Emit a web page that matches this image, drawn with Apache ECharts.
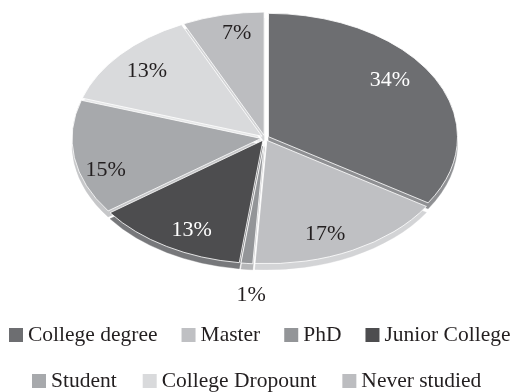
<!DOCTYPE html>
<html>
<head>
<meta charset="utf-8">
<style>html,body{margin:0;padding:0;background:#fff}#chart{width:513px;height:392px}</style>
<script src="https://cdn.jsdelivr.net/npm/echarts@6/dist/echarts.min.js"></script>
</head>
<body>
<div id="chart"></div>
<script>
// Share of respondents by education level, in percent
const categories = ['College degree', 'Master', 'PhD', 'Junior College', 'Student', 'College Dropount', 'Never studied'];
const shares = [34, 17, 1, 13, 15, 13, 7];

// Appearance of each slice
const topColors = ['#6d6e71', '#bfc0c3', '#939598', '#4d4d4f', '#a7a9ac', '#d9dadc', '#bcbdc0'];
const wallColors = ['#8f9093', '#d3d4d6', '#b5b6b8', '#77787b', '#c6c7c9', '#e6e7e8', '#d3d4d6'];
const labelColors = ['#ffffff', '#231f20', '#231f20', '#ffffff', '#231f20', '#231f20', '#231f20'];
const labelNudgeX = [-5, -7, 0, 2, -13, -7, 4];
const labelNudgeY = [-6, 0, 0, -1, 15, 5, 1];
const labelReachY = [0.87, 0.87, 1.27, 0.87, 0.87, 0.87, 0.87];

// Tilted disc geometry
const centerX = 265, centerY = 138, radiusX = 193, radiusY = 126, depth = 6, gap = 4;
const serif = '"Liberation Serif", serif';

const total = shares.reduce((a, b) => a + b, 0);
const startShare = shares.map((_, i) => shares.slice(0, i).reduce((a, b) => a + b, 0));

function renderSlice(params, api) {
  const i = params.seriesIndex;
  const from = startShare[i] / total * 2 * Math.PI;
  const to = (startShare[i] + shares[i]) / total * 2 * Math.PI;
  const mid = (from + to) / 2;
  const ox = centerX + Math.sin(mid) * gap;
  const oy = centerY - Math.cos(mid) * gap * radiusY / radiusX;
  const shape = { cx: 0, cy: 0, r0: 0, r: radiusX - gap, startAngle: from - Math.PI / 2, endAngle: to - Math.PI / 2, clockwise: true };
  const scaleY = radiusY / radiusX;
  return {
    type: 'group',
    children: [
      { type: 'sector', z2: 1, x: ox, y: oy + depth, scaleY, shape, style: { fill: wallColors[i], stroke: wallColors[i], lineWidth: 0.5 } },
      { type: 'sector', z2: 2, x: ox, y: oy, scaleY, shape, style: { fill: topColors[i], stroke: '#ffffff', lineWidth: 1 } },
      { type: 'text', z2: 3,
        x: centerX + Math.sin(mid) * 190 * 0.78 + labelNudgeX[i],
        y: centerY - Math.cos(mid) * 124 * labelReachY[i] + labelNudgeY[i],
        style: { text: shares[i] + '%', fill: labelColors[i], font: '22px ' + serif, align: 'center', verticalAlign: 'middle' } }
    ]
  };
}

const legendBase = {
  icon: 'rect', itemWidth: 14, itemHeight: 14,
  padding: 0, selectedMode: false,
  textStyle: { fontFamily: serif, fontSize: 21.5, color: '#231f20' }
};

const chart = echarts.init(document.getElementById('chart'), null, { renderer: 'canvas' });
chart.setOption({
  animation: false,
  backgroundColor: '#ffffff',
  legend: [
    Object.assign({}, legendBase, { data: categories.slice(0, 4), left: 9, top: 324, itemGap: 24 }),
    Object.assign({}, legendBase, { data: categories.slice(4), left: 32, top: 370, itemGap: 26 })
  ],
  series: categories.map((name, i) => ({
    type: 'custom',
    name,
    coordinateSystem: 'none',
    silent: true,
    itemStyle: { color: topColors[i] },
    data: [shares[i]],
    renderItem: renderSlice
  }))
});
</script>
</body>
</html>
